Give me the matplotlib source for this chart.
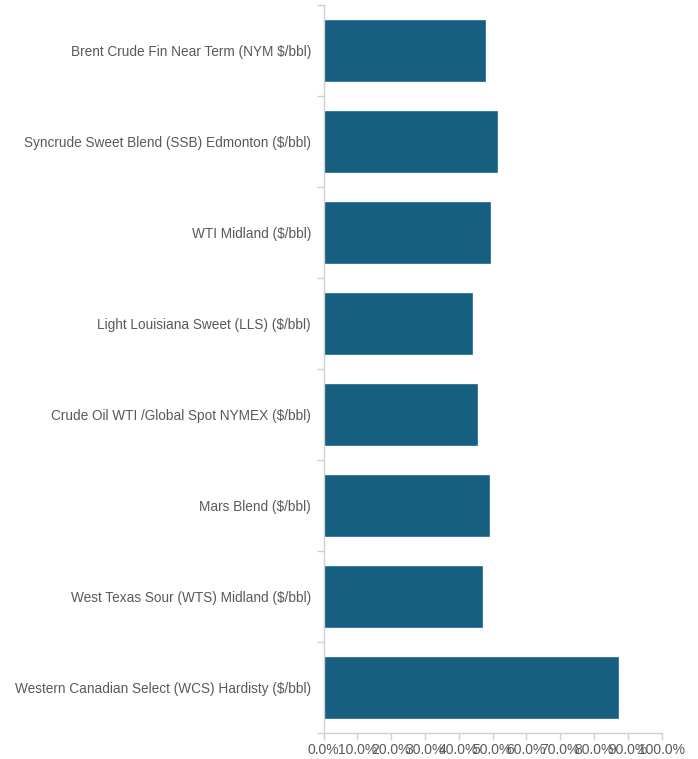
import matplotlib
matplotlib.use("Agg")
import matplotlib.pyplot as plt
import numpy as np

plt.rcParams["font.family"] = ["Liberation Sans", "DejaVu Sans"]

categories = [
    "Brent Crude Fin Near Term (NYM $/bbl)",
    "Syncrude Sweet Blend (SSB) Edmonton ($/bbl)",
    "WTI Midland ($/bbl)",
    "Light Louisiana Sweet (LLS) ($/bbl)",
    "Crude Oil WTI /Global Spot NYMEX ($/bbl)",
    "Mars Blend ($/bbl)",
    "West Texas Sour (WTS) Midland ($/bbl)",
    "Western Canadian Select (WCS) Hardisty ($/bbl)",
]
values = [47.9, 51.3, 49.3, 43.9, 45.4, 49.0, 46.9, 87.0]
xticks = list(range(0, 101, 10))
xticklabels = [f"{v:.1f}%" for v in xticks]

fig = plt.figure(figsize=(6.98, 7.59), dpi=100)
ax = fig.add_axes([323.5/698, 1-733/759, (661.7-323.5)/698, (733-5)/759])

n = len(categories)
y = np.arange(n)
ax.barh(y, values, height=0.66, color="#175f80", edgecolor="#2f7496", linewidth=0.6)
ax.set_ylim(n - 0.5, -0.5)
ax.set_xlim(0, 100)

grey = "#595959"
ax.set_yticks(y)
ax.set_yticklabels(categories, fontsize=9.85, color=grey)
ax.tick_params(axis="y", which="major", length=0, pad=9)
ax.set_yticks(np.arange(-0.5, n, 1), minor=True)
ax.tick_params(axis="y", which="minor", length=5, color="#d0d0d0", width=1)

ax.set_xticks(xticks)
ax.set_xticklabels(xticklabels, fontsize=10, color=grey)
ax.tick_params(axis="x", length=5, color="#d0d0d0", width=1, pad=2)

for s in ["top", "right"]:
    ax.spines[s].set_visible(False)
for s in ["left", "bottom"]:
    ax.spines[s].set_color("#d0d0d0")
    ax.spines[s].set_linewidth(1)

fig.savefig("out.png", dpi=100)
